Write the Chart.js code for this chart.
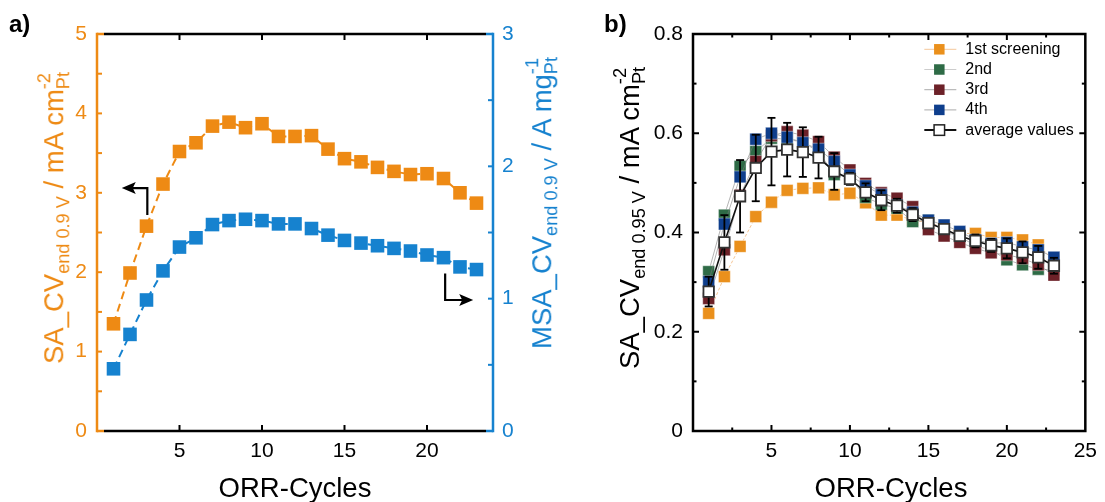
<!DOCTYPE html>
<html><head><meta charset="utf-8">
<script src="https://cdn.jsdelivr.net/npm/chart.js@4.4.0/dist/chart.umd.min.js"></script>
<style>
html,body{margin:0;padding:0;background:#fff;}
#wrap{position:relative;width:1105px;height:502px;overflow:hidden;font-family:"Liberation Sans",Arial,sans-serif;}
#ca{position:absolute;left:0;top:0;}
#cb{position:absolute;left:560px;top:0;}
.lbl{position:absolute;white-space:nowrap;line-height:1;}
.rot{transform:translate(-50%,-50%) rotate(-90deg);}
.sb{font-size:66%;position:relative;top:0.33em;line-height:0;}
.sp{font-size:66%;position:relative;top:-0.71em;line-height:0;}
</style></head>
<body>
<div id="wrap">
<canvas id="ca" width="560" height="502"></canvas>
<canvas id="cb" width="545" height="502"></canvas>
<div class="lbl" style="left:9px;top:12px;font-size:24px;font-weight:bold;">a)</div>
<div class="lbl" style="left:604px;top:12px;font-size:24px;font-weight:bold;">b)</div>
<div class="lbl rot" style="left:53.5px;top:217.5px;font-size:27.5px;color:#EE8A14;">SA_CV<span class="sb">end 0.9 V</span> / mA cm<span class="sp">-2</span><span class="sb" style="margin-left:-0.889em">Pt</span></div>
<div class="lbl rot" style="left:541.5px;top:202.5px;font-size:27.5px;color:#1682CF;">MSA_CV<span class="sb">end 0.9 V</span> / A mg<span class="sp">-1</span><span class="sb" style="margin-left:-0.889em">Pt</span></div>
<div class="lbl rot" style="left:630px;top:217.5px;font-size:27.5px;color:#000;">SA_CV<span class="sb">end 0.95 V</span> / mA cm<span class="sp">-2</span><span class="sb" style="margin-left:-0.889em">Pt</span></div>
<div class="lbl" style="left:97px;width:396px;top:474px;text-align:center;font-size:27.5px;color:#000;">ORR-Cycles</div>
<div class="lbl" style="left:693px;width:396px;top:474px;text-align:center;font-size:27.5px;color:#000;">ORR-Cycles</div>
</div>
<script>
// ---------- data ----------
const cycles = [1,2,3,4,5,6,7,8,9,10,11,12,13,14,15,16,17,18,19,20,21,22,23];
// panel a
const saA  = [1.35,1.99,2.58,3.11,3.52,3.63,3.84,3.89,3.82,3.87,3.71,3.71,3.72,3.55,3.43,3.39,3.32,3.27,3.23,3.24,3.18,3.00,2.87];
const msaA = [0.47,0.73,0.99,1.21,1.39,1.46,1.56,1.59,1.60,1.59,1.565,1.565,1.53,1.48,1.44,1.42,1.40,1.38,1.36,1.33,1.31,1.24,1.22];
// panel b
const first  = [0.237,0.311,0.372,0.432,0.461,0.485,0.489,0.490,0.476,0.479,0.460,0.435,0.435,0.425,0.420,0.410,0.398,0.398,0.390,0.390,0.385,0.375,0.343];
const second = [0.321,0.435,0.533,0.563,0.590,0.588,0.582,0.563,0.517,0.511,0.471,0.457,0.449,0.422,0.425,0.402,0.392,0.373,0.365,0.345,0.335,0.326,0.325];
const third  = [0.267,0.365,0.475,0.543,0.595,0.603,0.596,0.583,0.552,0.526,0.499,0.480,0.469,0.452,0.406,0.393,0.380,0.368,0.359,0.355,0.348,0.335,0.314];
const fourth = [0.301,0.417,0.512,0.588,0.600,0.592,0.581,0.568,0.543,0.516,0.494,0.476,0.455,0.441,0.425,0.415,0.402,0.385,0.378,0.380,0.371,0.365,0.350];
const avg    = [0.281,0.380,0.473,0.530,0.563,0.567,0.562,0.551,0.523,0.508,0.481,0.465,0.454,0.436,0.419,0.407,0.393,0.383,0.374,0.368,0.360,0.350,0.333];
const avgErr = [0.030,0.055,0.073,0.067,0.068,0.054,0.050,0.042,0.037,0.012,0.018,0.020,0.014,0.013,0.009,0.010,0.009,0.013,0.013,0.020,0.022,0.023,0.016];
// tick labels
const xTicksA = [5,10,15,20];
const xTicksB = [5,10,15,20,25];
// annotation arrows (panel a, in data units)
const arrowLeft  = {x:3.05, yFrom:2.72, yTo:3.06, xTip:1.5, axis:'y'};
const arrowRight = {x:21.1, yFrom:1.19, yTo:0.99, xTip:22.8, axis:'y2'};

// ---------- styles ----------
const OR_A = '#EE8A14', BL_A = '#1682CF';
const C1 = '#EA901C', C2 = '#2E6B46', C3 = '#6C2128', C4 = '#0E3E8C';
const FONT = '"Liberation Sans", Arial, sans-serif';
const pts = ys => cycles.map((c,i)=>({x:c, y:ys[i]}));

function seg(ctx,x1,y1,x2,y2){ctx.beginPath();ctx.moveTo(x1,y1);ctx.lineTo(x2,y2);ctx.stroke();}

// ---------- panel a plugins ----------
const frameA = {
  id:'frameA',
  afterDraw(chart){
    const {ctx, chartArea:ca, scales} = chart;
    const {left,right,top,bottom} = ca;
    ctx.save();
    ctx.lineWidth = 2.5; ctx.setLineDash([]);
    ctx.strokeStyle = '#000';
    seg(ctx,left+7,top,right-7,top); seg(ctx,left+7,bottom,right-7,bottom);
    ctx.strokeStyle = OR_A;
    seg(ctx,left,top-1.25,left,bottom+1.25); seg(ctx,left,top,left+7,top); seg(ctx,left,bottom,left+7,bottom);
    ctx.strokeStyle = BL_A;
    seg(ctx,right,top-1.25,right,bottom+1.25); seg(ctx,right-7,top,right,top); seg(ctx,right-7,bottom,right,bottom);
    // inward ticks
    ctx.lineWidth = 2;
    ctx.strokeStyle = '#000';
    xTicksA.forEach(v=>{const px=scales.x.getPixelForValue(v); seg(ctx,px,bottom,px,bottom-6); seg(ctx,px,top,px,top+6);});
    ctx.strokeStyle = OR_A;
    for(let v=0.5; v<5; v+=0.5){const py=scales.y.getPixelForValue(v); seg(ctx,left,py,left+5,py);}
    ctx.strokeStyle = BL_A;
    for(let v=0.5; v<3; v+=0.5){const py=scales.y2.getPixelForValue(v); seg(ctx,right,py,right-5,py);}
    // arrows
    ctx.strokeStyle = '#000'; ctx.fillStyle = '#000'; ctx.lineWidth = 2.2;
    [arrowLeft, arrowRight].forEach(a=>{
      const ys = scales[a.axis];
      const px = scales.x.getPixelForValue(a.x);
      const p1 = ys.getPixelForValue(a.yFrom), p2 = ys.getPixelForValue(a.yTo);
      const tip = scales.x.getPixelForValue(a.xTip);
      const dir = Math.sign(tip-px);
      ctx.beginPath(); ctx.moveTo(px,p1); ctx.lineTo(px,p2); ctx.lineTo(tip-dir*10,p2); ctx.stroke();
      ctx.beginPath(); ctx.moveTo(tip,p2); ctx.lineTo(tip-dir*14,p2-6); ctx.lineTo(tip-dir*11,p2); ctx.lineTo(tip-dir*14,p2+6); ctx.closePath(); ctx.fill();
    });
    ctx.restore();
  }
};

new Chart(document.getElementById('ca'), {
  type:'line',
  data:{datasets:[
    {label:'SA', data:pts(saA), yAxisID:'y', borderColor:OR_A, backgroundColor:OR_A, borderWidth:2, borderDash:[8,5],
     pointStyle:'rect', pointRadius:9.6, pointBorderWidth:0, tension:0},
    {label:'MSA', data:pts(msaA), yAxisID:'y2', borderColor:BL_A, backgroundColor:BL_A, borderWidth:2, borderDash:[8,5],
     pointStyle:'rect', pointRadius:9.6, pointBorderWidth:0, tension:0}
  ]},
  options:{
    responsive:false, animation:false, devicePixelRatio:1,
    layout:{padding:{top:34,left:0,right:0,bottom:0}},
    plugins:{legend:{display:false}, tooltip:{enabled:false}},
    scales:{
      x:{type:'linear', position:'bottom', min:0, max:24,
         afterBuildTicks:s=>{s.ticks = xTicksA.map(v=>({value:v}));},
         ticks:{color:'#000', font:{size:21,family:FONT}, padding:8, maxRotation:0, autoSkip:false},
         grid:{display:false, drawTicks:false}, border:{display:false}, afterFit:s=>{s.height=71;}},
      y:{position:'left', min:0, max:5,
         ticks:{stepSize:1, color:OR_A, font:{size:21,family:FONT}, padding:10, includeBounds:false},
         grid:{display:false, drawTicks:false}, border:{display:false}, afterFit:s=>{s.width=97;}},
      y2:{position:'right', min:0, max:3,
         ticks:{stepSize:1, color:BL_A, font:{size:21,family:FONT}, padding:9, includeBounds:false},
         grid:{display:false, drawTicks:false}, border:{display:false}, afterFit:s=>{s.width=67;}}
    }
  },
  plugins:[frameA]
});

// ---------- panel b plugins ----------
const frameB = {
  id:'frameB',
  afterDraw(chart){
    const {ctx, chartArea:ca, scales:{x,y}} = chart;
    ctx.save(); ctx.setLineDash([]); ctx.strokeStyle='#000'; ctx.lineWidth=2;
    for(let k=1;k<10;k++){const v=k*2.5; const px=x.getPixelForValue(v); const L=(k%2===0)?6:3.5;
      seg(ctx,px,ca.bottom,px,ca.bottom-L); seg(ctx,px,ca.top,px,ca.top+L);}
    for(let k=1;k<8;k++){const py=y.getPixelForValue(k/10); const L=(k%2===0)?6:3.5;
      seg(ctx,ca.left,py,ca.left+L,py); seg(ctx,ca.right,py,ca.right-L,py);}
    ctx.lineWidth=2.5; ctx.strokeRect(ca.left,ca.top,ca.right-ca.left,ca.bottom-ca.top);
    ctx.restore();
  }
};
const errB = {
  id:'errB',
  beforeDatasetDraw(chart,args){
    const ds = chart.data.datasets[args.index];
    if(ds.label!=='average values') return;
    const {ctx, scales:{x,y}} = chart;
    ctx.save(); ctx.strokeStyle='#000'; ctx.lineWidth=1.8; ctx.setLineDash([]);
    cycles.forEach((c,i)=>{
      const px=x.getPixelForValue(c), hi=y.getPixelForValue(avg[i]+avgErr[i]), lo=y.getPixelForValue(avg[i]-avgErr[i]);
      seg(ctx,px,hi,px,lo); seg(ctx,px-4,hi,px+4,hi); seg(ctx,px-4,lo,px+4,lo);
    });
    ctx.restore();
  }
};
const legendB = {
  id:'legendB',
  afterDatasetsDraw(chart){
    const {ctx, chartArea:ca} = chart;
    const order = ['1st screening','2nd','3rd','4th','average values'];
    ctx.save();
    order.forEach((lab,i)=>{
      const d = chart.data.datasets.find(q=>q.label===lab);
      const yy = ca.top + 15.3 + i*20.2, mx = ca.right - 146;
      ctx.setLineDash([]); ctx.strokeStyle = d.legendLine; ctx.lineWidth = d.label==='average values'?2:1.2;
      seg(ctx,mx-15,yy,mx+17,yy);
      const s=10.5;
      ctx.fillStyle=d.backgroundColor; ctx.fillRect(mx-s/2,yy-s/2,s,s);
      if(d.label==='average values'){ctx.lineWidth=1.5; ctx.strokeStyle='#222'; ctx.strokeRect(mx-s/2,yy-s/2,s,s);}
      ctx.fillStyle='#000'; ctx.font='16px '+FONT; ctx.textBaseline='middle'; ctx.textAlign='left';
      ctx.fillText(d.label, ca.right-120, yy);
    });
    ctx.restore();
  }
};

const common = {pointStyle:'rect', pointRadius:8.4, tension:0};
new Chart(document.getElementById('cb'), {
  type:'line',
  data:{datasets:[
    Object.assign({label:'average values', data:pts(avg), order:0, borderColor:'#111', borderWidth:1.6, backgroundColor:'#fff',
      pointBackgroundColor:'#fff', pointBorderColor:'#333', pointBorderWidth:1.8, legendLine:'#111'}, common, {pointRadius:7.4}),
    Object.assign({label:'4th', data:pts(fourth), order:1, borderColor:'rgba(120,120,120,0.7)', borderWidth:0.8, backgroundColor:C4,
      pointBackgroundColor:C4, pointBorderColor:'rgba(255,255,255,0.5)', pointBorderWidth:0.8, legendLine:'#bbb'}, common),
    Object.assign({label:'3rd', data:pts(third), order:2, borderColor:'rgba(120,120,120,0.7)', borderWidth:0.8, backgroundColor:C3,
      pointBackgroundColor:C3, pointBorderColor:'rgba(255,255,255,0.5)', pointBorderWidth:0.8, legendLine:'#bbb'}, common),
    Object.assign({label:'2nd', data:pts(second), order:3, borderColor:'rgba(120,120,120,0.7)', borderWidth:0.8, backgroundColor:C2,
      pointBackgroundColor:C2, pointBorderColor:'rgba(255,255,255,0.5)', pointBorderWidth:0.8, legendLine:'#ccc'}, common),
    Object.assign({label:'1st screening', data:pts(first), order:4, borderColor:'rgba(236,150,60,0.55)', borderWidth:1, borderDash:[3,2], backgroundColor:C1,
      pointBackgroundColor:C1, pointBorderColor:'rgba(255,255,255,0.5)', pointBorderWidth:0.8, legendLine:'rgba(240,180,120,0.6)'}, common)
  ]},
  options:{
    responsive:false, animation:false, devicePixelRatio:1,
    layout:{padding:{top:34,left:0,right:16,bottom:0}},
    plugins:{legend:{display:false}, tooltip:{enabled:false}},
    scales:{
      x:{type:'linear', position:'bottom', min:0, max:25,
         afterBuildTicks:s=>{s.ticks = xTicksB.map(v=>({value:v}));},
         ticks:{color:'#000', font:{size:21,family:FONT}, padding:8, maxRotation:0, autoSkip:false},
         grid:{display:false, drawTicks:false}, border:{display:false}, afterFit:s=>{s.height=71;}},
      y:{position:'left', min:0, max:0.8,
         ticks:{stepSize:0.2, color:'#000', font:{size:21,family:FONT}, padding:10},
         grid:{display:false, drawTicks:false}, border:{display:false}, afterFit:s=>{s.width=133;}}
    }
  },
  plugins:[errB, frameB, legendB]
});
</script>
</body></html>
